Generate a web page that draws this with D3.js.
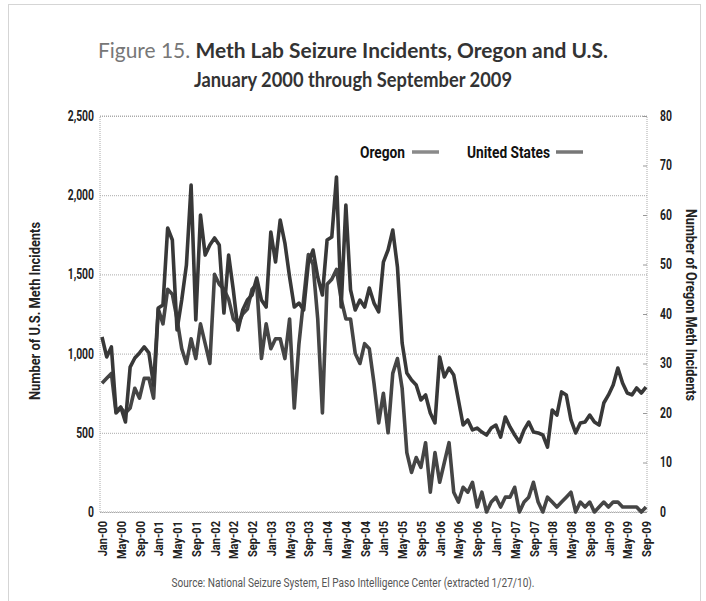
<!DOCTYPE html>
<html>
<head>
<meta charset="utf-8">
<script src="https://cdn.jsdelivr.net/npm/d3@7"></script>
<style>
  body { margin: 0; background: #fff; }
  .cond { font-family: "Roboto", "DejaVu Sans Condensed", sans-serif; }
  .title { font-family: "Lato", "Open Sans", sans-serif; }
</style>
</head>
<body>
<svg width="706" height="601"></svg>
<script>
// monthly meth lab seizure incidents, Jan 2000 .. Sep 2009
const usIncidents = [
  1105, 979, 1042, 631, 663, 568, 915, 972, 1004, 1042, 1004, 802,
  1288, 1307, 1793, 1717, 1149, 1338, 1559, 2064, 1212, 1875, 1622, 1686,
  1730, 1686, 1256, 1622, 1402, 1149, 1275, 1338, 1370, 1477, 1338, 1294,
  1768, 1578, 1843, 1698, 1484, 1294, 1319, 1275, 1572, 1654, 1484, 1370,
  1717, 1736, 2115, 1294, 1938, 1402, 1275, 1338, 1294, 1414, 1319, 1263,
  1578, 1654, 1780, 1547, 1067, 877, 833, 802, 707, 739, 625, 562,
  979, 852, 909, 865, 707, 549, 581, 518, 530, 505, 486, 530,
  549, 473, 600, 537, 486, 442, 518, 568, 505, 499, 486, 410,
  644, 612, 758, 739, 581, 499, 562, 568, 612, 568, 549, 688,
  739, 802, 909, 814, 751, 739, 783, 751, 789
];
const oregonIncidents = [
  26, 27, 28, 20, 21, 20, 21, 25, 23, 27, 27, 23,
  41, 38, 45, 44, 39, 33, 30, 35, 31, 38, 34, 30,
  48, 46, 45, 43, 39, 38, 40, 41, 45, 46, 31, 38,
  33, 35, 35, 31, 39, 21, 34, 43, 52, 50, 39, 20,
  46, 47, 49, 43, 39, 39, 32, 30, 34, 33, 26, 18,
  24, 16, 28, 31, 25, 12, 8, 11, 9, 14, 4, 12,
  6, 10, 14, 4, 2, 5, 4, 6, 1, 4, 0, 2,
  3, 1, 3, 3, 5, 0, 2, 3, 6, 2, 0, 3,
  2, 1, 2, 3, 4, 0, 2, 1, 2, 0, 1, 2,
  1, 2, 2, 1, 1, 1, 1, 0, 1
];
const fmtMonth = d3.timeFormat("%b-%y");
const months = d3.timeMonth.range(new Date(2000, 0, 1), new Date(2009, 9, 1)).map(fmtMonth);
const tickLabels = months.filter((d, i) => i % 4 === 0);
const usTicks = [0, 500, 1000, 1500, 2000, 2500];
const oregonTicks = [0, 10, 20, 30, 40, 50, 60, 70, 80];

const svg = d3.select("svg");
const plot = {left: 100, right: 647, top: 116, bottom: 512};

const x = d3.scalePoint().domain(months).range([102, 646]);
const yUS = d3.scaleLinear().domain([0, 2500]).range([plot.bottom, plot.top]);
const yOR = d3.scaleLinear().domain([0, 80]).range([plot.bottom, plot.top]);

// the original uses a condensed face; squeeze the glyphs to match
function squeeze(sel, factor) {
  sel.each(function() {
    const w = this.getComputedTextLength();
    d3.select(this).attr("textLength", w * factor).attr("lengthAdjust", "spacingAndGlyphs");
  });
}
function fitTo(sel, width) {
  sel.attr("textLength", width).attr("lengthAdjust", "spacingAndGlyphs");
}

// outer frame
svg.append("rect")
    .attr("x", 8.5).attr("y", 4.5).attr("width", 692).attr("height", 640)
    .attr("fill", "none").attr("stroke", "#aaa").attr("stroke-dasharray", "1,1");

// title
const t1 = svg.append("text").attr("class", "title")
    .attr("x", 353).attr("y", 58).attr("text-anchor", "middle")
    .style("font-size", "20.5px");
t1.append("tspan").attr("fill", "#777").text("Figure 15. ");
t1.append("tspan").attr("fill", "#333").style("font-weight", "bold")
    .text("Meth Lab Seizure Incidents, Oregon and U.S.");
fitTo(t1, 510);
svg.append("text").attr("class", "title")
    .attr("x", 353).attr("y", 87).attr("text-anchor", "middle")
    .attr("fill", "#333").style("font-size", "20.5px").style("font-weight", "bold")
    .text("January 2000 through September 2009")
    .call(fitTo, 318);

// grid lines
svg.append("g")
    .attr("transform", `translate(${plot.left},0)`)
    .call(d3.axisLeft(yUS).tickValues(usTicks).tickSize(-(plot.right - plot.left)).tickFormat(""))
    .call(g => g.select(".domain").remove())
    .call(g => g.selectAll("line").attr("stroke", "#aaa").attr("stroke-dasharray", "1,1"));

// plot border
svg.append("rect")
    .attr("x", plot.left).attr("y", plot.top)
    .attr("width", plot.right - plot.left).attr("height", plot.bottom - plot.top)
    .attr("fill", "none").attr("stroke", "#aaa").attr("stroke-dasharray", "1,1");

// left axis
svg.append("g")
    .attr("class", "cond")
    .attr("transform", `translate(${plot.left},0)`)
    .call(d3.axisLeft(yUS).tickValues(usTicks).tickSize(0).tickPadding(6).tickFormat(d3.format(",")))
    .call(g => g.select(".domain").remove())
    .call(g => g.selectAll("text").attr("fill", "#222")
        .style("font-size", "14px").style("font-weight", "bold")
        .style("font-family", "inherit").call(squeeze, 0.74));

// right axis
svg.append("g")
    .attr("class", "cond")
    .attr("transform", `translate(${plot.right},0)`)
    .call(d3.axisRight(yOR).tickValues(oregonTicks).tickSizeInner(-4).tickSizeOuter(0).tickPadding(13))
    .call(g => g.select(".domain").remove())
    .call(g => g.selectAll("line").attr("stroke", "#999"))
    .call(g => g.selectAll("text").attr("fill", "#222")
        .style("font-size", "14px").style("font-weight", "bold")
        .style("font-family", "inherit").call(squeeze, 0.74));

// bottom axis
svg.append("g")
    .attr("class", "cond")
    .attr("transform", `translate(0,${plot.bottom})`)
    .call(d3.axisBottom(x).tickValues(tickLabels).tickSize(0))
    .call(g => g.select(".domain").remove())
    .call(g => g.selectAll("text")
        .attr("transform", "rotate(-90)")
        .attr("x", -9).attr("y", 0).attr("dy", "0.35em")
        .attr("fill", "#222")
        .style("text-anchor", "end")
        .style("font-size", "13px").style("font-weight", "bold")
        .style("font-family", "inherit").call(squeeze, 0.85));

// axis titles
svg.append("text").attr("class", "cond")
    .attr("transform", "translate(40,311) rotate(-90)")
    .attr("text-anchor", "middle").attr("fill", "#222")
    .style("font-size", "14px").style("font-weight", "bold")
    .text("Number of U.S. Meth Incidents")
    .call(fitTo, 178);
svg.append("text").attr("class", "cond")
    .attr("transform", "translate(686,305) rotate(90)")
    .attr("text-anchor", "middle").attr("fill", "#222")
    .style("font-size", "14px").style("font-weight", "bold")
    .text("Number of Oregon Meth Incidents")
    .call(fitTo, 192);

// lines
const lineUS = d3.line().x((d, i) => x(months[i])).y(d => yUS(d));
const lineOR = d3.line().x((d, i) => x(months[i])).y(d => yOR(d));

svg.append("path").datum(oregonIncidents)
    .attr("d", lineOR).attr("fill", "none")
    .attr("stroke", "#454545").attr("stroke-width", 3.6)
    .attr("stroke-linejoin", "round");
svg.append("path").datum(usIncidents)
    .attr("d", lineUS).attr("fill", "none")
    .attr("stroke", "#383838").attr("stroke-width", 3.6)
    .attr("stroke-linejoin", "round");

// legend
const legend = [
  {name: "Oregon", x: 360, w: 45, sx: 412, color: "#8a8a8a"},
  {name: "United States", x: 467, w: 83, sx: 556, color: "#777"}
];
legend.forEach(l => {
  svg.append("text").attr("class", "cond")
      .attr("x", l.x).attr("y", 158).attr("fill", "#111")
      .style("font-size", "16px").style("font-weight", "bold")
      .text(l.name)
      .call(fitTo, l.w);
  svg.append("line")
      .attr("x1", l.sx).attr("x2", l.sx + 27).attr("y1", 152).attr("y2", 152)
      .attr("stroke", l.color).attr("stroke-width", 3.5);
});

// source note
svg.append("text").attr("class", "cond")
    .attr("x", 353).attr("y", 587).attr("text-anchor", "middle")
    .attr("fill", "#555").style("font-size", "12.5px")
    .text("Source: National Seizure System, El Paso Intelligence Center (extracted 1/27/10).")
    .call(fitTo, 363);
</script>
</body>
</html>
